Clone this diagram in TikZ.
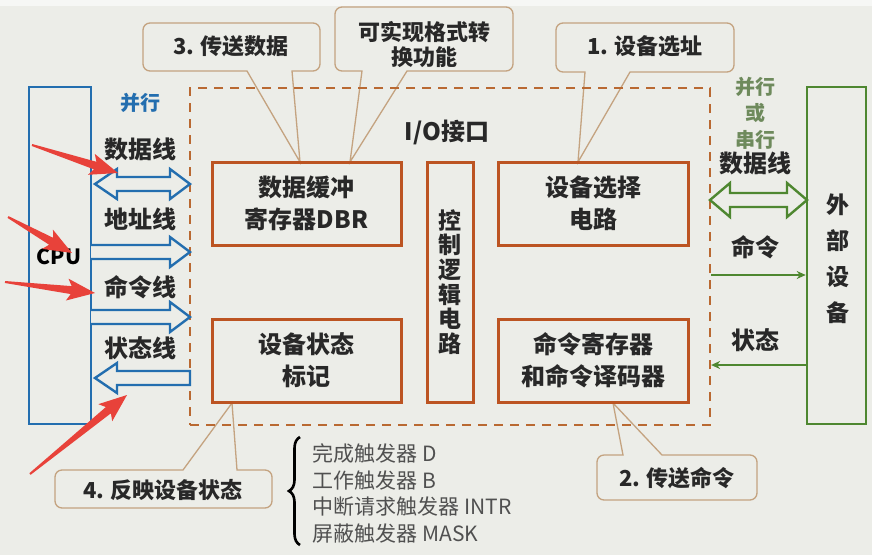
\documentclass[tikz,border=0pt]{standalone}
\usepackage{fontspec}
\setmainfont{Noto Sans CJK SC}
\usetikzlibrary{arrows.meta,calc,decorations.pathreplacing}
\definecolor{bg}{RGB}{236,237,232}
\definecolor{cpublue}{RGB}{35,110,175}
\definecolor{boxor}{RGB}{188,84,34}
\definecolor{dashor}{RGB}{185,105,50}
\definecolor{calltan}{RGB}{196,163,128}
\definecolor{grn}{RGB}{78,135,48}
\definecolor{grntext}{RGB}{110,138,92}
\definecolor{txt}{RGB}{40,40,40}
\definecolor{listtxt}{RGB}{80,80,80}
\definecolor{annred}{RGB}{232,66,58}
\newcommand\fsz[2]{\fontsize{#1}{#2}\selectfont}
\newcommand\annarrow[3]{%
  \coordinate (#1t) at (#2);
  \coordinate (#1h) at (#3);
  \coordinate (#1b) at ($(#1h)!24pt!(#1t)$);
  \coordinate (#1w) at ($(#1h)!28pt!(#1t)$);
  \fill[annred] ($(#1t)!1pt!90:(#1h)$) -- ($(#1b)!4pt!90:(#1h)$) -- ($(#1w)!11pt!90:(#1h)$) -- (#1h)
     -- ($(#1w)!11pt!-90:(#1h)$) -- ($(#1b)!4pt!-90:(#1h)$) -- ($(#1t)!1pt!-90:(#1h)$) -- cycle;}
\begin{document}
\begin{tikzpicture}[x=1pt,y=-1pt,
  ibox/.style={draw=boxor,line width=3pt,inner sep=0pt,text=txt,font=\fsz{24}{32}\bfseries,align=center},
  callout/.style={draw=calltan,line width=1.3pt,fill=bg},
  ctext/.style={text=txt,font=\fsz{22}{25}\bfseries,align=center},
  lbl/.style={text=txt,font=\fsz{24}{28}\bfseries,align=center},
  bluearr/.style={draw=cpublue,line width=2.4pt,fill=bg,line join=miter},
  greenarr/.style={draw=grn,line width=2.4pt,fill=bg,line join=miter},
  greenline/.style={draw=grn,line width=2pt,-{Stealth[length=9pt,width=8pt]}},
  listtext/.style={text=listtxt,font=\fsz{21}{27},anchor=west}]
\useasboundingbox (0,0) rectangle (872,555);
\fill[bg] (0,0) rectangle (872,555);
\fill[white!55!bg] (0,0) rectangle (872,6);

% callouts
\draw[callout] (300,162) -- (292,71) [rounded corners=7pt] -- (320,71) -- (320,23) -- (143,23) -- (143,71) [sharp corners] -- (247,71) -- cycle;
\draw[callout] (350,162) -- (407,71) [rounded corners=7pt] -- (513,71) -- (513,7) -- (335,7) -- (335,71) [sharp corners] -- (362,71) -- cycle;
\draw[callout] (578,162) -- (630,72) [rounded corners=7pt] -- (734,72) -- (734,23) -- (556,23) -- (556,72) [sharp corners] -- (585,72) -- cycle;
\draw[callout] (232,403) -- (237,470) [rounded corners=7pt] -- (272,470) -- (272,508) -- (55,508) -- (55,470) [sharp corners] -- (183,470) -- cycle;
\draw[callout] (613,403) -- (662,455) [rounded corners=7pt] -- (757,455) -- (757,500) -- (597,500) -- (597,455) [sharp corners] -- (623,455) -- cycle;
\node[ctext] (c3) at (231,46) {3. 传送数据};
\node[ctext] (cf) at (424,44) {可实现格式转\\换功能};
\node[ctext] (c1) at (645,46) {1. 设备选址};
\node[ctext] (c4) at (163,490) {4. 反映设备状态};
\node[ctext] (c2) at (677,478) {2. 传送命令};

% I/O interface dashed box
\node[draw=dashor,line width=2.2pt,dash pattern=on 9pt off 7pt,minimum width=520pt,minimum height=337pt,inner sep=0pt] (io) at (450,256.5) {};
\node[text=txt,font=\fsz{24}{28}\bfseries] (iol) at (447,132) {I/O接口};

% inner boxes
\node[ibox,minimum width=189pt,minimum height=83pt] (dbr) at (306.5,203.5) {数据缓冲\\寄存器DBR};
\node[ibox,minimum width=189pt,minimum height=83pt] (stat) at (306.5,360.5) {设备状态\\标记};
\node[ibox,minimum width=190pt,minimum height=83pt] (sel) at (593,203.5) {设备选择\\电路};
\node[ibox,minimum width=190pt,minimum height=83pt] (cmd) at (593,360.5) {命令寄存器\\和命令译码器};
\node[ibox,minimum width=46pt,minimum height=240pt,font=\fsz{23}{24.6}\bfseries] (ctl) at (450,282) {控\\制\\逻\\辑\\电\\路};

% CPU
\node[draw=cpublue,line width=2.6pt,minimum width=62pt,minimum height=337pt,inner sep=0pt] (cpu) at (60,255.5) {};
\node[text=black,font=\fsz{21}{24}\bfseries] (cpul) at (59,257) {CPU};

% external device
\node[draw=grn,line width=2.6pt,minimum width=59pt,minimum height=337pt,inner sep=0pt] (ext) at (836.5,255.5) {};
\node[text=txt,font=\fsz{23}{36}\bfseries,align=center] (extl) at (838,259) {外\\部\\设\\备};

% left bus labels
\node[text=cpublue,font=\fsz{20}{24}\bfseries] (par) at (140,103) {并行};
\node[lbl] (ld) at (140,149) {数据线};
\node[lbl] (la) at (140,219) {地址线};
\node[lbl] (lc) at (140,287) {命令线};
\node[lbl] (ls) at (140,348) {状态线};

% blue hollow arrows
\draw[bluearr] (95,184) -- (117,169) -- (117,177) -- (170,177) -- (170,169) -- (190,184) -- (170,199) -- (170,191) -- (117,191) -- (117,199) -- cycle;
\draw[bluearr] (91,245) -- (170,245) -- (170,237) -- (190,252) -- (170,267) -- (170,259) -- (91,259);
\draw[bluearr] (91,310) -- (170,310) -- (170,302) -- (190,317) -- (170,332) -- (170,324) -- (91,324);
\draw[bluearr] (190,371) -- (117,371) -- (117,363) -- (95,378) -- (117,393) -- (117,385) -- (190,385) -- cycle;

% right side
\node[text=grntext,font=\fsz{20}{26.5}\bfseries,align=center] (rpar) at (755,113) {并行\\或\\串行};
\node[lbl] (rd) at (755,163) {数据线};
\draw[greenarr] (710,200) -- (730,183) -- (730,193) -- (787,193) -- (787,183) -- (807,200) -- (787,217) -- (787,207) -- (730,207) -- (730,217) -- cycle;
\node[lbl] (rc) at (755,247) {命令};
\node[lbl] (rs) at (755,340) {状态};
\draw[greenline] (io.east |- 0,275) -- (ext.west |- 0,275);
\draw[greenline] (ext.west |- 0,365) -- (io.east |- 0,365);

% flip-flop list
\draw[line width=2.6pt,decorate,decoration={brace,amplitude=11pt}] (300,545) -- (300,437);
\node[listtext] (f1) at (309,453) {完成触发器 D};
\node[listtext] (f2) at (309,480) {工作触发器 B};
\node[listtext] (f3) at (309,507) {中断请求触发器 INTR};
\node[listtext] (f4) at (309,533) {屏蔽触发器 MASK};

% red annotation arrows
\annarrow{ra}{32,145}{118,173}
\annarrow{rb}{8,217}{72,253}
\annarrow{rc}{5,282}{95,293}
\annarrow{rd}{30,474}{127,395}
\end{tikzpicture}
\end{document}
